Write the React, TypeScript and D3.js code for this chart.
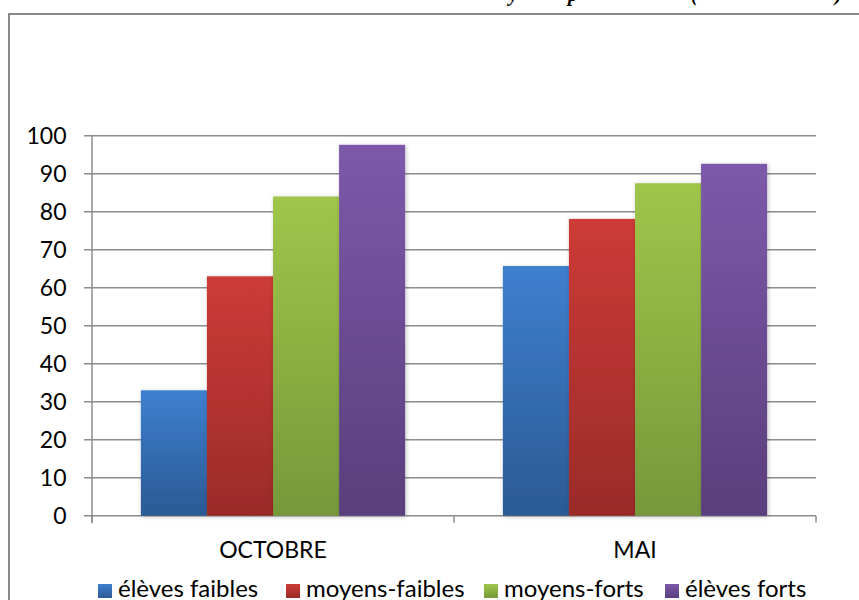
import React from 'react';
import * as d3 from 'd3';

const categories = ['OCTOBRE', 'MAI'];
const series = ['élèves faibles', 'moyens-faibles', 'moyens-forts', 'élèves forts'];
const octobreValues = [33, 63, 84, 97.6];
const maiValues = [65.7, 78.1, 87.5, 92.6];
const yTicks = [0, 10, 20, 30, 40, 50, 60, 70, 80, 90, 100];
const colorsTop = ['#3e7fcf', '#cd3b37', '#9fc64a', '#7d59aa'];
const colorsBottom = ['#2b5a94', '#9a2b28', '#76993a', '#5a3e7c'];

const values = [octobreValues, maiValues];

const W = 859;
const H = 600;
const plot = { left: 92, right: 816, top: 135.7, bottom: 515.7 };
const font = 'Lato, "Open Sans", sans-serif';

const App: React.FC = () => {
  const x0 = d3.scaleBand<string>().domain(categories).range([plot.left, plot.right]).padding(0);
  const x1 = d3.scaleBand<string>().domain(series).range([0, x0.bandwidth()]).paddingInner(0).paddingOuter(0.74);
  const y = d3.scaleLinear().domain([0, 100]).range([plot.bottom, plot.top]);

  // legend swatch positions
  const legendX = [98, 286, 484, 665];

  return (
    <svg width={W} height={H} style={{ position: 'absolute', left: 0, top: 0, background: '#fff' }}>
      <defs>
        {series.map((s, i) => (
          <linearGradient key={s} id={`grad${i}`} x1="0" y1="0" x2="0" y2="1">
            <stop offset="0%" stopColor={colorsTop[i]} />
            <stop offset="100%" stopColor={colorsBottom[i]} />
          </linearGradient>
        ))}
        <filter id="shadow" x="-20%" y="-20%" width="140%" height="140%">
          <feDropShadow dx="1" dy="1" stdDeviation="2" floodColor="#000" floodOpacity="0.25" />
        </filter>
      </defs>

      {/* fragments of the caption cut off at the top */}
      <g fontFamily='"Liberation Serif", "Times New Roman", serif' fontStyle="italic" fontWeight="bold" fontSize={20} fill="#000">
        <text x={509} y={0.5}>y</text>
        <text x={568} y={0.5}>p</text>
        <text x={691} y={0.5}>(</text>
        <text x={835} y={0.5}>)</text>
      </g>

      {/* frame */}
      <rect x={9} y={14} width={W} height={H} fill="none" stroke="#8a8a8a" strokeWidth={2} />

      {/* gridlines + y ticks */}
      {yTicks.map(t => (
        <g key={t}>
          <line x1={plot.left - 8} x2={plot.right} y1={y(t)} y2={y(t)} stroke="#8c8c8c" strokeWidth={1.5} />
          <text x={66.5} y={y(t)} dy="0.36em" textAnchor="end" fontFamily={font} fontSize={23} fill="#000">{t}</text>
        </g>
      ))}
      <line x1={plot.left} x2={plot.left} y1={plot.top} y2={plot.bottom + 7} stroke="#8c8c8c" strokeWidth={1.5} />
      {[plot.left, x0('MAI')!, plot.right].map((xx, i) => (
        <line key={i} x1={xx} x2={xx} y1={plot.bottom} y2={plot.bottom + 7} stroke="#8c8c8c" strokeWidth={1.5} />
      ))}

      {/* bars */}
      {categories.map((c, ci) => (
        <g key={c} transform={`translate(${x0(c)},0)`}>
          {series.map((s, si) => (
            <rect
              key={s}
              x={x1(s)}
              y={y(values[ci][si])}
              width={x1.bandwidth()}
              height={plot.bottom - y(values[ci][si])}
              fill={`url(#grad${si})`}
              filter="url(#shadow)"
            />
          ))}
        </g>
      ))}

      {/* category labels */}
      {categories.map(c => (
        <text key={c} x={x0(c)! + x0.bandwidth() / 2} y={558} textAnchor="middle" fontFamily={font} fontSize={23} fill="#000">{c}</text>
      ))}

      {/* legend */}
      {series.map((s, i) => (
        <g key={s} transform={`translate(${legendX[i]},0)`}>
          <rect x={0} y={584} width={14} height={14} fill={`url(#grad${i})`} />
          <text x={20} y={597} fontFamily={font} fontSize={24} fill="#000">{s}</text>
        </g>
      ))}
    </svg>
  );
};

export default App;
